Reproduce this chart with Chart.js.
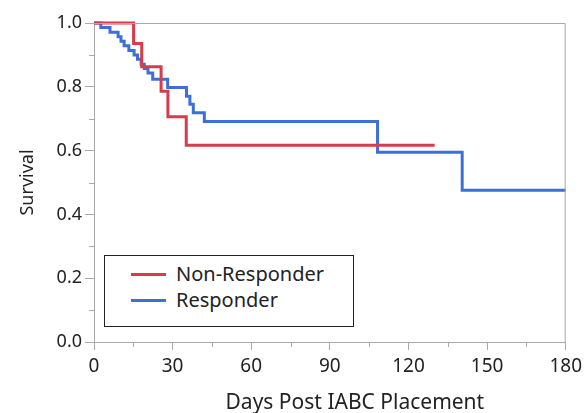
<!DOCTYPE html>
<html>
<head>
<meta charset="utf-8">
<script src="https://cdn.jsdelivr.net/npm/chart.js@4"></script>
<style>
  html, body { margin: 0; padding: 0; background: #fff; }
  #wrap { position: relative; width: 587px; height: 413px; }
  #legend {
    position: absolute; left: 104px; top: 255px; width: 248px; height: 70px;
    border: 1.5px solid #222; background: #fff;
    font-family: "Noto Sans", sans-serif; font-size: 20px; color: #222;
  }
  .item { position: absolute; left: 26px; height: 26px; line-height: 26px; }
  .item span.sw { position: absolute; left: 0; top: 12px; width: 35px; height: 3px; }
  .item span.tx { position: absolute; left: 45px; white-space: nowrap; }
</style>
</head>
<body>
<div id="wrap">
  <canvas id="km" width="587" height="413"></canvas>
  <div id="legend"></div>
</div>
<script>
// Kaplan-Meier steps: day of each drop and survival after it
const seriesNames = ['Non-Responder', 'Responder'];
const nonResponderDays = [0, 15.1, 18.2, 25.6, 28.2, 35.2, 130];
const nonResponderSurv = [1.0, 0.936, 0.863, 0.786, 0.706, 0.617, 0.617];
const responderDays = [0, 2.6, 6.1, 9.2, 10.3, 11.5, 13.3, 15.3, 16.6, 18.0, 19.2, 20.6, 22.4, 28.1, 35.3, 36.6, 37.9, 42.1, 108.2, 140.5, 180];
const responderSurv = [1.0, 0.986, 0.971, 0.957, 0.943, 0.929, 0.914, 0.900, 0.886, 0.871, 0.857, 0.843, 0.824, 0.798, 0.770, 0.745, 0.719, 0.691, 0.595, 0.476, 0.476];
const xTicks = [0, 30, 60, 90, 120, 150, 180];
const yTicks = [0, 0.2, 0.4, 0.6, 0.8, 1.0];
const colors = ['#d83b4b', '#3c6fd8'];

const font = "'Noto Sans', sans-serif";

function toPoints(xs, ys) {
  return xs.map((x, i) => ({ x: x, y: ys[i] }));
}

// frame, minor ticks and the x title
const extras = {
  id: 'extras',
  afterDraw(chart) {
    const { ctx, chartArea: a, scales } = chart;
    ctx.save();
    ctx.strokeStyle = '#aaa';
    ctx.lineWidth = 1;
    ctx.beginPath();
    ctx.moveTo(a.left, a.top + 0.5);
    ctx.lineTo(a.right - 0.5, a.top + 0.5);
    ctx.lineTo(a.right - 0.5, a.bottom);
    for (let v = 0.1; v < 1; v += 0.2) {
      const y = Math.round(scales.y.getPixelForValue(v)) + 0.5;
      ctx.moveTo(a.left - 5, y);
      ctx.lineTo(a.left, y);
    }
    for (let d = 15; d < 180; d += 30) {
      const x = Math.round(scales.x.getPixelForValue(d)) + 0.5;
      ctx.moveTo(x, a.bottom);
      ctx.lineTo(x, a.bottom + 5);
    }
    ctx.stroke();
    ctx.fillStyle = '#222';
    ctx.font = '21px ' + font;
    ctx.textAlign = 'center';
    ctx.textBaseline = 'alphabetic';
    ctx.fillText('Days Post IABC Placement', (a.left + a.right) / 2 + 25, 409);
    ctx.restore();
  }
};

const chart = new Chart(document.getElementById('km'), {
  type: 'line',
  data: {
    datasets: [
      {
        label: seriesNames[0],
        data: toPoints(nonResponderDays, nonResponderSurv),
        borderColor: colors[0],
        borderWidth: 3,
        stepped: 'before',
        pointRadius: 0,
        fill: false,
        clip: 5
      },
      {
        label: seriesNames[1],
        data: toPoints(responderDays, responderSurv),
        borderColor: colors[1],
        borderWidth: 3,
        stepped: 'before',
        pointRadius: 0,
        fill: false,
        clip: 5
      }
    ]
  },
  options: {
    responsive: false,
    animation: false,
    layout: { padding: { top: 23, right: 20, left: 0, bottom: 0 } },
    plugins: { legend: { display: false }, tooltip: { enabled: false } },
    scales: {
      x: {
        type: 'linear',
        min: 0,
        max: 180,
        afterBuildTicks: s => { s.ticks = xTicks.map(v => ({ value: v })); },
        afterFit: s => { s.height = 71; },
        ticks: { color: '#222', font: { family: font, size: 19 }, padding: 5, maxRotation: 0 },
        grid: { drawOnChartArea: false, tickLength: 8, color: '#aaa' },
        border: { color: '#aaa' },
        title: { display: false }
      },
      y: {
        min: 0,
        max: 1,
        afterBuildTicks: s => { s.ticks = yTicks.map(v => ({ value: v })); },
        afterFit: s => { s.width = 94; },
        ticks: {
          color: '#222', font: { family: font, size: 18 }, padding: 3,
          callback: v => v.toFixed(1)
        },
        grid: { drawOnChartArea: false, tickLength: 9, color: '#aaa' },
        border: { color: '#aaa' },
        title: {
          display: true, text: 'Survival', color: '#222',
          font: { family: font, size: 18 }, padding: { top: 17, bottom: 0 }
        }
      }
    }
  },
  plugins: [extras]
});

// legend box built from the datasets
const legend = document.getElementById('legend');
chart.data.datasets.forEach((ds, i) => {
  const item = document.createElement('div');
  item.className = 'item';
  item.style.top = (5 + i * 26) + 'px';
  item.innerHTML = '<span class="sw" style="background:' + ds.borderColor + '"></span><span class="tx">' + ds.label + '</span>';
  legend.appendChild(item);
});
</script>
</body>
</html>
